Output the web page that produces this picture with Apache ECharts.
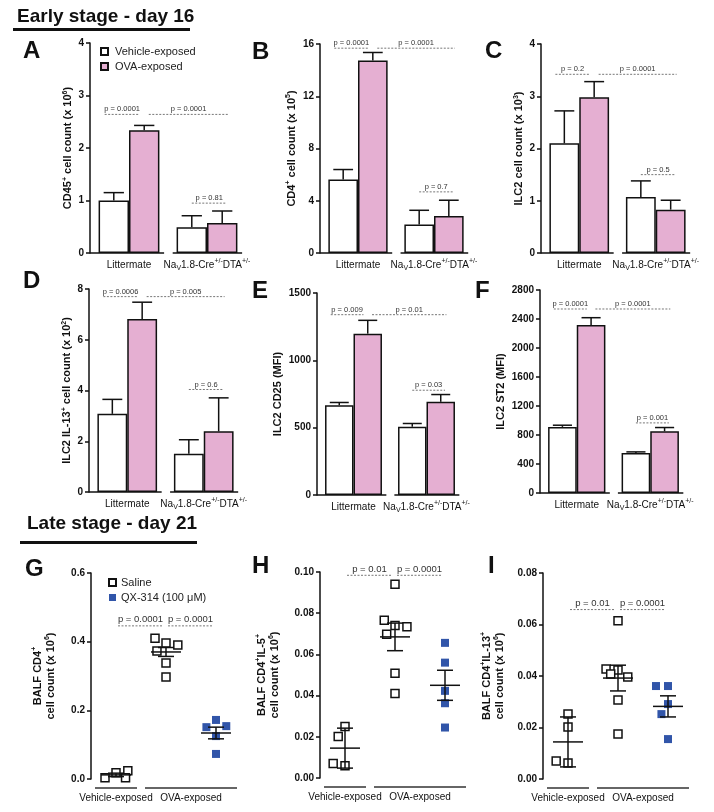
<!DOCTYPE html>
<html>
<head>
<meta charset="utf-8">
<script src="https://cdn.jsdelivr.net/npm/echarts@6/dist/echarts.min.js"></script>
<style>
  html, body { margin: 0; padding: 0; background: #fff; }
  #chart { width: 714px; height: 812px; }
</style>
</head>
<body>
<div id="chart"></div>
<script>
// ---- data ----
const barCategories = ['Littermate', 'NaV1.8-Cre+/-DTA+/-'];
const treatments = ['Vehicle-exposed', 'OVA-exposed'];

// A: CD45+ (x 10^6)
const cd45Vehicle = [1.0, 0.49];
const cd45VehicleSem = [0.15, 0.22];
const cd45Ova = [2.34, 0.57];
const cd45OvaSem = [0.09, 0.23];
const cd45P = [['p = 0.0001', 2.64, 0, 1], ['p = 0.0001', 2.64, 1, 3], ['p = 0.81', 0.95, 2, 3]];

// B: CD4+ (x 10^5)
const cd4Vehicle = [5.62, 2.19];
const cd4VehicleSem = [0.77, 1.08];
const cd4Ova = [14.73, 2.84];
const cd4OvaSem = [0.62, 1.2];
const cd4P = [['p = 0.0001', 15.68, 0, 1], ['p = 0.0001', 15.68, 1, 3], ['p = 0.7', 4.68, 2, 3]];

// C: ILC2 (x 10^3)
const ilc2Vehicle = [2.1, 1.07];
const ilc2VehicleSem = [0.62, 0.31];
const ilc2Ova = [2.98, 0.83];
const ilc2OvaSem = [0.3, 0.18];
const ilc2P = [['p = 0.2', 3.42, 0, 1], ['p = 0.0001', 3.42, 1, 3], ['p = 0.5', 1.5, 2, 3]];

// D: ILC2 IL-13+ (x 10^2)
const il13Vehicle = [3.08, 1.51];
const il13VehicleSem = [0.57, 0.55];
const il13Ova = [6.82, 2.39];
const il13OvaSem = [0.66, 1.32];
const il13P = [['p = 0.0006', 7.7, 0, 1], ['p = 0.005', 7.7, 1, 3], ['p = 0.6', 4.04, 2, 3]];

// E: ILC2 CD25 (MFI)
const cd25Vehicle = [667, 507];
const cd25VehicleSem = [20, 24];
const cd25Ova = [1198, 692];
const cd25OvaSem = [99, 54];
const cd25P = [['p = 0.009', 1339, 0, 1], ['p = 0.01', 1339, 1, 3], ['p = 0.03', 778, 2, 3]];

// F: ILC2 ST2 (MFI)
const st2Vehicle = [912, 553];
const st2VehicleSem = [23, 14];
const st2Ova = [2317, 852];
const st2OvaSem = [101, 51];
const st2P = [['p = 0.0001', 2538, 0, 1], ['p = 0.0001', 2538, 1, 3], ['p = 0.001', 967, 2, 3]];

// G-I: late stage, individual mice
const scatterCategories = ['Vehicle / Saline', 'OVA / Saline', 'OVA / QX-314'];
const scatterGroups = [['Vehicle-exposed', 0, 0], ['OVA-exposed', 1, 2]];
const scatterTreatments = ['Saline', 'QX-314 (100 \u03bcM)'];

const balfCd4Vehicle = [0.018, 0.004, 0.024, 0.004];
const balfCd4Saline = [0.396, 0.373, 0.41, 0.39, 0.338, 0.297];
const balfCd4Qx = [0.172, 0.151, 0.154, 0.125, 0.073];
const balfCd4Mean = [0.012, 0.37, 0.134];
const balfCd4Sem = [0.005, 0.013, 0.017];
const balfCd4P = [['p = 0.0001', 0.446, 0, 1], ['p = 0.0001', 0.446, 1, 2]];

const il5Vehicle = [0.025, 0.0202, 0.006, 0.007];
const il5Saline = [0.094, 0.074, 0.0766, 0.0734, 0.0698, 0.0508, 0.041];
const il5Qx = [0.0656, 0.056, 0.0423, 0.0363, 0.0245];
const il5Mean = [0.0145, 0.0685, 0.045];
const il5Sem = [0.0097, 0.0067, 0.0073];
const il5P = [['p = 0.01', 0.0984, 0, 1], ['p = 0.0001', 0.0984, 1, 2]];

const cd4Il13Vehicle = [0.0252, 0.0202, 0.0062, 0.007];
const cd4Il13Saline = [0.0615, 0.0423, 0.0427, 0.0396, 0.0408, 0.0307, 0.0175];
const cd4Il13Qx = [0.0361, 0.0361, 0.0291, 0.0252, 0.0155];
const cd4Il13Mean = [0.0144, 0.0392, 0.0282];
const cd4Il13Sem = [0.0097, 0.005, 0.0041];
const cd4Il13P = [['p = 0.01', 0.0658, 0, 1], ['p = 0.0001', 0.0658, 1, 2]];

// ---- styling ----
const FONT = "'Liberation Sans', Arial, Helvetica, sans-serif";
const INK = '#111';
const PINK = '#e5afd2';
const BLUE = '#3155a9';
const BAR_FRAC = 0.39;   // width of one bar, share of the category band

let myChart = echarts.init(document.getElementById('chart'));

let option = {
    animation: false,
    textStyle: { fontFamily: FONT },
    grid: [], xAxis: [], yAxis: [], series: [], legend: [], graphic: []
};

function valueAxis(i, p) {
    return {
        gridIndex: i, type: 'value', min: 0, max: p.max, interval: p.interval,
        name: p.name, nameLocation: 'middle', nameGap: p.nameGap,
        nameTextStyle: {
            fontSize: 11, fontWeight: 'bold', color: INK, fontFamily: FONT, lineHeight: 13,
            rich: { sup: { fontSize: 7, fontWeight: 'bold', verticalAlign: 'top', fontFamily: FONT, color: INK } }
        },
        axisLine: { show: true, lineStyle: { color: INK, width: 1.5 } },
        axisTick: { show: true, length: 4, lineStyle: { color: INK, width: 1.5 } },
        axisLabel: { fontSize: 10, fontWeight: 'bold', color: INK, margin: 6, formatter: p.fmt || (v => String(v)) },
        splitLine: { show: false }
    };
}

function pLine(list, fontSize, xOf) {
    return function (params, api) {
        const d = list[params.dataIndex];
        const band = api.size([1, 0])[0];
        const y = api.coord([0, d[1]])[1];
        const xs = xOf(api, band, d[2], d[3]);
        return {
            type: 'group', children: [
                { type: 'line', shape: { x1: xs[0], y1: y, x2: xs[1], y2: y },
                  style: { stroke: '#777', lineWidth: 1, lineDash: [2, 1.5] } },
                { type: 'text', style: { text: d[0], x: (xs[0] + xs[1]) / 2, y: y - 1, align: 'center',
                  verticalAlign: 'bottom', fontSize: fontSize, fill: '#333', fontFamily: FONT } }
            ]
        };
    };
}

function barCenter(api, band, idx) {
    const c = api.coord([Math.floor(idx / 2), 0])[0];
    return c + (idx % 2 ? 1 : -1) * BAR_FRAC / 2 * band;
}

function addBarPanel(p) {
    const i = option.grid.length;
    option.grid.push(p.grid);
    option.xAxis.push({
        gridIndex: i, type: 'category', data: barCategories,
        axisLine: { show: false }, axisTick: { show: false },
        axisLabel: {
            interval: 0, margin: 5, fontSize: 10, color: INK, lineHeight: 14,
            formatter: v => v === barCategories[1] ? 'Na{sub|V}1.8-Cre{sup|+/-}DTA{sup|+/-}' : v,
            rich: { sup: { fontSize: 7, verticalAlign: 'top', fontFamily: FONT, color: INK },
                    sub: { fontSize: 7, verticalAlign: 'bottom', fontFamily: FONT, color: INK } }
        }
    });
    option.yAxis.push(valueAxis(i, p));
    const barStyle = { borderColor: INK, borderWidth: 1.5 };
    option.series.push({
        name: treatments[0], type: 'bar', xAxisIndex: i, yAxisIndex: i, data: p.vehicle,
        barWidth: (BAR_FRAC * 100) + '%', barGap: '0%', itemStyle: Object.assign({ color: '#fff' }, barStyle)
    });
    option.series.push({
        name: treatments[1], type: 'bar', xAxisIndex: i, yAxisIndex: i, data: p.ova,
        barWidth: (BAR_FRAC * 100) + '%', barGap: '0%', itemStyle: Object.assign({ color: PINK }, barStyle)
    });
    // upper error bars
    [[p.vehicle, p.vehicleSem, -1], [p.ova, p.ovaSem, 1]].forEach(([m, s, side]) => {
        option.series.push({
            type: 'custom', xAxisIndex: i, yAxisIndex: i, silent: true, z: 3,
            data: m.map((v, k) => [k, v, v + s[k]]),
            encode: { x: 0, y: [1, 2] },
            renderItem(params, api) {
                const base = api.coord([api.value(0), api.value(1)]);
                const top = api.coord([api.value(0), api.value(2)]);
                const band = api.size([1, 0])[0];
                const x = base[0] + side * BAR_FRAC / 2 * band;
                const cap = 0.13 * band;
                const st = { stroke: INK, lineWidth: 1.5 };
                return { type: 'group', children: [
                    { type: 'line', shape: { x1: x, y1: base[1], x2: x, y2: top[1] }, style: st },
                    { type: 'line', shape: { x1: x - cap, y1: top[1], x2: x + cap, y2: top[1] }, style: st }
                ] };
            }
        });
    });
    // GraphPad style split x axis, one piece per group
    option.series.push({
        type: 'custom', xAxisIndex: i, yAxisIndex: i, silent: true, z: 4,
        data: barCategories.map((c, k) => [k, 0]),
        renderItem(params, api) {
            const c = api.coord([api.value(0), 0]);
            const band = api.size([1, 0])[0];
            const x1 = c[0] - (params.dataIndex === 0 ? 0.5 : 0.44) * band;
            const x2 = c[0] + 0.45 * band;
            return { type: 'line', shape: { x1: x1, y1: c[1], x2: x2, y2: c[1] }, style: { stroke: INK, lineWidth: 1.5 } };
        }
    });
    // p values
    option.series.push({
        type: 'custom', xAxisIndex: i, yAxisIndex: i, silent: true, z: 5,
        data: p.p.map(d => [Math.floor(d[2] / 2), d[1]]),
        renderItem: pLine(p.p, 7.5, (api, band, a, b) => {
            const bw = BAR_FRAC * band;
            const startOff = { 0: -0.3, 1: 0.15, 2: 0 }[a];
            const endOff = b === 1 ? -0.15 : (a === 1 ? 0.2 : 0.15);
            return [barCenter(api, band, a) + startOff * bw, barCenter(api, band, b) + endOff * bw];
        })
    });
}

function addScatterPanel(p) {
    const i = option.grid.length;
    option.grid.push(p.grid);
    option.xAxis.push({
        gridIndex: i, type: 'category', data: scatterCategories,
        axisLine: { show: false }, axisTick: { show: false }, axisLabel: { show: false },
        jitter: 40, jitterOverlap: false, jitterMargin: 4
    });
    option.yAxis.push(valueAxis(i, p));
    option.series.push({
        name: scatterTreatments[0], type: 'scatter', xAxisIndex: i, yAxisIndex: i,
        symbol: 'rect', symbolSize: 8,
        data: p.vehicle.map(v => [0, v]).concat(p.saline.map(v => [1, v])),
        itemStyle: { color: '#fff', borderColor: INK, borderWidth: 1.5, opacity: 1 }
    });
    option.series.push({
        name: scatterTreatments[1], type: 'scatter', xAxisIndex: i, yAxisIndex: i,
        symbol: 'rect', symbolSize: 8,
        data: p.qx.map(v => [2, v]),
        itemStyle: { color: BLUE, opacity: 1 }
    });
    // mean +/- SEM
    option.series.push({
        type: 'custom', xAxisIndex: i, yAxisIndex: i, silent: true, z: 4,
        data: p.mean.map((m, k) => [k, m, m - p.sem[k], m + p.sem[k]]),
        encode: { x: 0, y: [1, 2, 3] },
        renderItem(params, api) {
            const c = api.coord([api.value(0), api.value(1)]);
            const lo = api.coord([api.value(0), api.value(2)])[1];
            const hi = api.coord([api.value(0), api.value(3)])[1];
            const st = { stroke: INK, lineWidth: 1.5 };
            return { type: 'group', children: [
                { type: 'line', shape: { x1: c[0] - 15, y1: c[1], x2: c[0] + 15, y2: c[1] }, style: st },
                { type: 'line', shape: { x1: c[0], y1: lo, x2: c[0], y2: hi }, style: st },
                { type: 'line', shape: { x1: c[0] - 8, y1: lo, x2: c[0] + 8, y2: lo }, style: st },
                { type: 'line', shape: { x1: c[0] - 8, y1: hi, x2: c[0] + 8, y2: hi }, style: st }
            ] };
        }
    });
    // group bars + labels under the plot
    option.series.push({
        type: 'custom', xAxisIndex: i, yAxisIndex: i, silent: true, z: 4,
        data: scatterGroups.map(g => [g[1], 0]),
        renderItem(params, api) {
            const g = scatterGroups[params.dataIndex];
            const p1 = api.coord([g[1], 0]);
            const p2 = api.coord([g[2], 0]);
            const band = api.size([1, 0])[0];
            const y = p1[1] + 9;
            const x1 = p1[0] - 0.42 * band, x2 = p2[0] + 0.42 * band;
            return { type: 'group', children: [
                { type: 'line', shape: { x1: x1, y1: y, x2: x2, y2: y }, style: { stroke: '#333', lineWidth: 1.5 } },
                { type: 'text', style: { text: g[0], x: (x1 + x2) / 2, y: y + 10, align: 'center', verticalAlign: 'middle',
                  fontSize: 10, fill: INK, fontFamily: FONT } }
            ] };
        }
    });
    option.series.push({
        type: 'custom', xAxisIndex: i, yAxisIndex: i, silent: true, z: 5,
        data: p.p.map(d => [d[2], d[1]]),
        renderItem: pLine(p.p, 9.5, (api, band, a, b) => [
            api.coord([a, 0])[0] + 0.04 * band, api.coord([b, 0])[0] - 0.06 * band
        ])
    });
}

addBarPanel({ grid: { left: 90, top: 43, width: 156, height: 210 }, max: 4, interval: 1, nameGap: 10,
    name: 'CD45{sup|+} cell count (x 10{sup|6})',
    vehicle: cd45Vehicle, vehicleSem: cd45VehicleSem, ova: cd45Ova, ovaSem: cd45OvaSem, p: cd45P });
addBarPanel({ grid: { left: 320, top: 44, width: 152, height: 209 }, max: 16, interval: 4, nameGap: 22,
    name: 'CD4{sup|+} cell count (x 10{sup|5})',
    vehicle: cd4Vehicle, vehicleSem: cd4VehicleSem, ova: cd4Ova, ovaSem: cd4OvaSem, p: cd4P });
addBarPanel({ grid: { left: 541, top: 44, width: 153, height: 209 }, max: 4, interval: 1, nameGap: 13,
    name: 'ILC2 cell count (x 10{sup|3})',
    vehicle: ilc2Vehicle, vehicleSem: ilc2VehicleSem, ova: ilc2Ova, ovaSem: ilc2OvaSem, p: ilc2P });
addBarPanel({ grid: { left: 89, top: 289, width: 153, height: 203 }, max: 8, interval: 2, nameGap: 10,
    name: 'ILC2 IL-13{sup|+} cell count (x 10{sup|2})',
    vehicle: il13Vehicle, vehicleSem: il13VehicleSem, ova: il13Ova, ovaSem: il13OvaSem, p: il13P });
addBarPanel({ grid: { left: 317, top: 293, width: 146, height: 202 }, max: 1500, interval: 500, nameGap: 31,
    name: 'ILC2 CD25 (MFI)',
    vehicle: cd25Vehicle, vehicleSem: cd25VehicleSem, ova: cd25Ova, ovaSem: cd25OvaSem, p: cd25P });
addBarPanel({ grid: { left: 540, top: 290, width: 147, height: 203 }, max: 2800, interval: 400, nameGap: 32,
    name: 'ILC2 ST2 (MFI)',
    vehicle: st2Vehicle, vehicleSem: st2VehicleSem, ova: st2Ova, ovaSem: st2OvaSem, p: st2P });

addScatterPanel({ grid: { left: 91, top: 573, width: 150, height: 206 }, max: 0.6, interval: 0.2, nameGap: 34,
    name: 'BALF CD4{sup|+}\ncell count (x 10{sup|6})', fmt: v => v.toFixed(1),
    vehicle: balfCd4Vehicle, saline: balfCd4Saline, qx: balfCd4Qx, mean: balfCd4Mean, sem: balfCd4Sem, p: balfCd4P });
addScatterPanel({ grid: { left: 320, top: 572, width: 150, height: 206 }, max: 0.1, interval: 0.02, nameGap: 39,
    name: 'BALF CD4{sup|+}IL-5{sup|+}\ncell count (x 10{sup|6})', fmt: v => v.toFixed(2),
    vehicle: il5Vehicle, saline: il5Saline, qx: il5Qx, mean: il5Mean, sem: il5Sem, p: il5P });
addScatterPanel({ grid: { left: 543, top: 573, width: 150, height: 206 }, max: 0.08, interval: 0.02, nameGap: 37,
    name: 'BALF CD4{sup|+}IL-13{sup|+}\ncell count (x 10{sup|6})', fmt: v => v.toFixed(2),
    vehicle: cd4Il13Vehicle, saline: cd4Il13Saline, qx: cd4Il13Qx, mean: cd4Il13Mean, sem: cd4Il13Sem, p: cd4Il13P });

// legends
option.legend.push({
    data: treatments, left: 100, top: 46, padding: 0, orient: 'vertical', icon: 'rect',
    itemWidth: 7, itemHeight: 7, itemGap: 4, selectedMode: false,
    textStyle: { fontSize: 11, color: '#222', fontFamily: FONT, padding: [0, 0, 0, 2] }
});
option.legend.push({
    data: scatterTreatments, left: 108, top: 577, padding: 0, orient: 'vertical', icon: 'rect',
    itemWidth: 7, itemHeight: 7, itemGap: 4, selectedMode: false,
    textStyle: { fontSize: 11, color: '#222', fontFamily: FONT }
});

// headings and panel letters
const heading = (text, x, y) => ({ type: 'text', left: x, top: y,
    style: { text: text, fontSize: 19, fontWeight: 'bold', fill: INK, fontFamily: FONT } });
const letter = (text, x, y) => ({ type: 'text', left: x, top: y,
    style: { text: text, fontSize: 24, fontWeight: 'bold', fill: INK, fontFamily: FONT } });
option.graphic = [
    heading('Early stage - day 16', 17, 7),
    { type: 'rect', left: 13, top: 28, shape: { width: 177, height: 3 }, style: { fill: INK } },
    heading('Late stage - day 21', 27, 514),
    { type: 'rect', left: 20, top: 541, shape: { width: 177, height: 3 }, style: { fill: INK } },
    letter('A', 23, 39), letter('B', 252, 40), letter('C', 485, 39),
    letter('D', 23, 269), letter('E', 252, 279), letter('F', 475, 279),
    letter('G', 25, 557), letter('H', 252, 554), letter('I', 488, 554)
];

myChart.setOption(option);
window.addEventListener('resize', function () {
    myChart.resize();
});
</script>
</body>
</html>
